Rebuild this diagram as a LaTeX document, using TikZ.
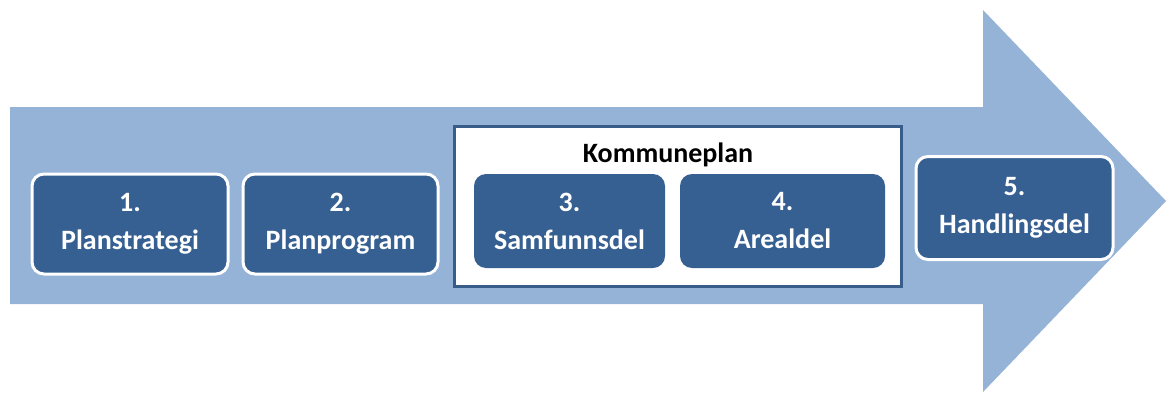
\documentclass[tikz,border=0pt]{standalone}
\usepackage{fontspec}
\setmainfont{Carlito}
\usepackage{xcolor}
\definecolor{arrowblue}{HTML}{95B3D7}
\definecolor{boxblue}{HTML}{366092}
\definecolor{frameblue}{HTML}{385D8A}

\begin{document}
\begin{tikzpicture}[x=0.75pt, y=-0.75pt,
	planbox/.style={fill=boxblue, rounded corners=9pt, text=white, align=center, inner sep=0pt,
		font=\bfseries\fontsize{21}{28.5}\selectfont},
	whiteline/.style={draw=white, line width=2.25pt}]
\useasboundingbox (0,0) rectangle (1166,396);
% the big arrow
\fill[arrowblue] (10,107) -- (983,107) -- (983,10) -- (1166,201) -- (983,392) -- (983,304) -- (10,304) -- cycle;
% frame round 3 and 4
\node[draw=frameblue, line width=2.25pt, fill=white, minimum width=335.25pt, minimum height=120pt] (kommuneplan) at (677.5,206) {};
\node[font=\bfseries\fontsize{21}{24}\selectfont] (kptitle) at (668,155) {Kommuneplan};
% the steps
\node[planbox, whiteline, minimum width=147pt, minimum height=75pt] (planstrategi) at (130,224) {1.\\Planstrategi};
\node[planbox, whiteline, minimum width=146.25pt, minimum height=75pt] (planprogram) at (340.5,224) {2.\\Planprogram};
\node[planbox, minimum width=143.25pt, minimum height=70.5pt] (samfunnsdel) at (569.5,221) {3.\\Samfunnsdel};
\node[planbox, minimum width=153.75pt, minimum height=70.5pt] (arealdel) at (782.5,221) {4.\\Arealdel};
\node[planbox, whiteline, minimum width=147.75pt, minimum height=77.25pt] (handlingsdel) at (1014.5,208) {5.\\Handlingsdel};
\end{tikzpicture}
\end{document}
